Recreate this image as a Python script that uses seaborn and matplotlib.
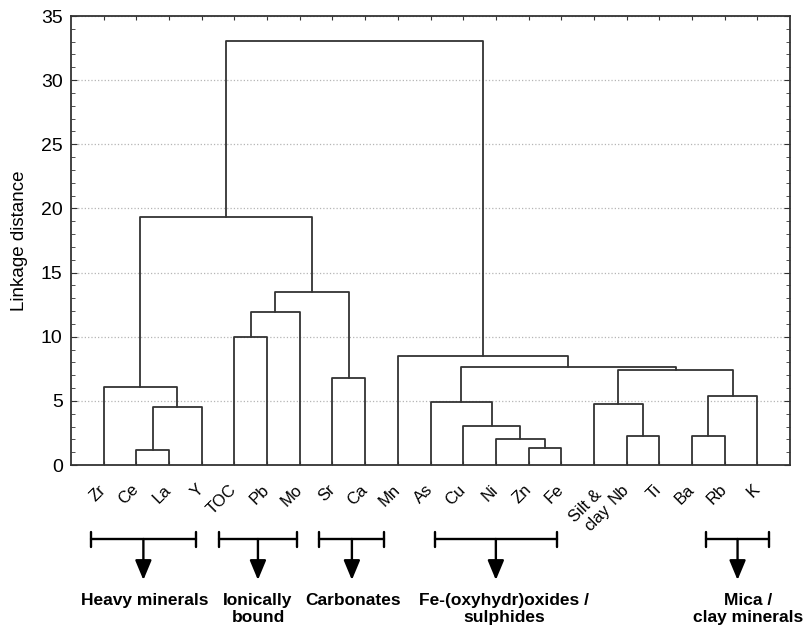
import matplotlib
matplotlib.use("Agg")
import matplotlib.pyplot as plt
import matplotlib.transforms as mtransforms
from matplotlib.ticker import MultipleLocator
import pandas as pd
import seaborn as sns

# =============================
# DATA
# =============================
# leaves in dendrogram order
elements = ["Zr", "Ce", "La", "Y", "TOC", "Pb", "Mo", "Sr", "Ca", "Mn",
            "As", "Cu", "Ni", "Zn", "Fe", "Silt &\nclay", "Nb", "Ti", "Ba", "Rb", "K"]

# merge steps (linkage table): leaves are 0..20, merged clusters get 21, 22, ...
merge_left = [1, 13, 12, 16, 18, 11, 21, 15, 10, 25, 0, 7, 28, 29, 9, 4, 36, 37, 31, 39]
merge_right = [2, 14, 22, 17, 19, 23, 3, 24, 26, 20, 27, 8, 30, 33, 34, 5, 6, 32, 38, 35]
merge_height = [1.14, 1.33, 2.03, 2.26, 2.26, 3.04, 4.52, 4.78, 4.89, 5.38,
                6.10, 6.78, 7.38, 7.64, 8.52, 9.98, 11.9, 13.46, 19.33, 33.05]

# element groups shown below the axis
group_names = ["Heavy minerals", "Ionically\nbound", "Carbonates",
               "Fe-(oxyhydr)oxides /\nsulphides", "Mica /\nclay minerals"]
group_spans = [(0.61, 3.82), (4.52, 6.92), (7.6, 9.59), (11.14, 14.86), (19.43, 21.36)]
group_text_x = [2.26, 5.72, 8.63, 13.25, 20.72]

# =============================
# BUILD DENDROGRAM LINKS
# =============================
n = len(elements)
pos = {i: i + 1 for i in range(n)}
hgt = {i: 0.0 for i in range(n)}
rows = []
for k, (a, b, h) in enumerate(zip(merge_left, merge_right, merge_height)):
    xs = [pos[a], pos[a], pos[b], pos[b]]
    ys = [hgt[a], h, h, hgt[b]]
    for j, (x, y) in enumerate(zip(xs, ys)):
        rows.append({"link": k, "order": j, "x": x, "y": y})
    pos[n + k] = (pos[a] + pos[b]) / 2
    hgt[n + k] = h
links = pd.DataFrame(rows)

# =============================
# PLOT
# =============================
sns.set_style("white")
plt.rcParams["font.family"] = ["Liberation Sans", "DejaVu Sans"]
plt.rcParams["text.color"] = "black"
plt.rcParams["axes.labelcolor"] = "black"

line_col = "#333333"
fig = plt.figure(figsize=(8.04, 6.35), dpi=100)
ax = fig.add_axes([0.0883, 0.2677, 0.8943, 0.7071])

sns.lineplot(data=links, x="x", y="y", units="link", estimator=None, sort=False,
             color=line_col, linewidth=1.3, ax=ax, legend=False)

ax.set_xlim(0, n + 1)
ax.set_ylim(0, 35)
ax.yaxis.set_major_locator(MultipleLocator(5))
ax.yaxis.set_minor_locator(MultipleLocator(1))
ax.set_xticks(range(1, n + 1))
ax.set_xticklabels(elements, rotation=45, ha="right", va="center",
                   rotation_mode="anchor", fontsize=12, multialignment="center")
shift = mtransforms.ScaledTranslation(0.05, 0, fig.dpi_scale_trans)
for lab in ax.get_xticklabels():
    lab.set_transform(lab.get_transform() + shift)
    if "\n" in lab.get_text():
        lab.set_va("top")
ax.tick_params(axis="x", which="both", direction="in", top=True, bottom=True,
               length=3, pad=16, colors=line_col, labelcolor="black")
ax.tick_params(axis="y", which="major", direction="in", left=True, right=True,
               length=4, labelsize=14, pad=6, colors=line_col, labelcolor="black")
ax.tick_params(axis="y", which="minor", direction="in", left=True, right=True,
               length=3, colors=line_col)
ax.yaxis.grid(True, which="major", linestyle=":", color="#b5b5b5", linewidth=0.9)
ax.xaxis.grid(False)
for s in ax.spines.values():
    s.set_color(line_col)
    s.set_linewidth(1.3)

ax.set_xlabel("")
ax.set_ylabel("Linkage distance", fontsize=13.5, labelpad=9)

# group brackets and arrows
trans = mtransforms.blended_transform_factory(ax.transData, fig.transFigure)
y_br = 1 - 539 / 635
cap = 7.5 / 635
y_tip = 1 - 580 / 635
y_txt = 1 - 593 / 635
for name, (x0, x1), xt in zip(group_names, group_spans, group_text_x):
    xm = (x0 + x1) / 2
    ax.plot([x0, x1], [y_br, y_br], color="black", lw=1.7, transform=trans, clip_on=False)
    for xe in (x0, x1):
        ax.plot([xe, xe], [y_br - cap, y_br + cap], color="black", lw=1.7,
                transform=trans, clip_on=False)
    ax.annotate("", xy=(xm, y_tip), xytext=(xm, y_br), xycoords=trans, textcoords=trans,
                arrowprops=dict(arrowstyle="-|>,head_length=0.6,head_width=0.25",
                                mutation_scale=20, color="black", lw=1.7,
                                shrinkA=0, shrinkB=0))
    ax.text(xt, y_txt, name, transform=trans, ha="center", va="top", fontsize=12.5,
            fontweight="bold", color="black", linespacing=1.15, clip_on=False)

fig.savefig("out.png", dpi=100)
plt.close(fig)
